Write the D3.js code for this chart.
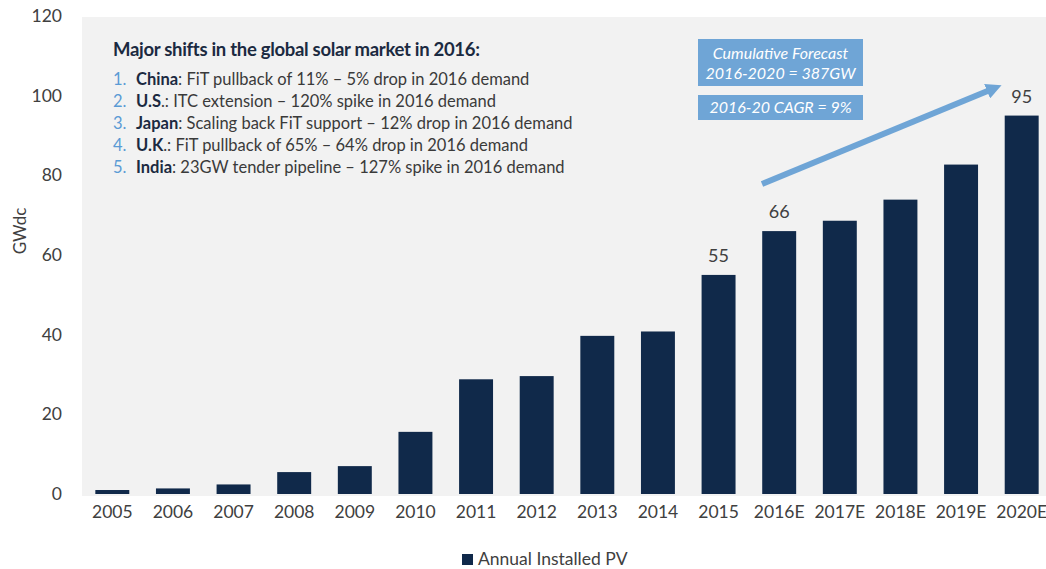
<!DOCTYPE html>
<html>
<head>
<meta charset="utf-8">
<script src="https://cdn.jsdelivr.net/npm/d3@7"></script>
<style>
  html, body { margin: 0; padding: 0; background: #ffffff; }
  svg { display: block; font-family: Lato, "Open Sans", sans-serif; }
</style>
</head>
<body>
<svg id="chart" width="1046" height="569"></svg>
<script>
// Annual installed PV capacity, GWdc
const years = ["2005","2006","2007","2008","2009","2010","2011","2012","2013","2014","2015","2016E","2017E","2018E","2019E","2020E"];
const installed = [1.0, 1.4, 2.4, 5.5, 7.0, 15.6, 28.8, 29.6, 39.7, 40.8, 55, 66, 68.6, 73.9, 82.7, 95];
const labelledYears = ["2015", "2016E", "2020E"];
const yTicks = [0, 20, 40, 60, 80, 100, 120];

const headline = "Major shifts in the global solar market in 2016:";
const shiftNums = ["1.", "2.", "3.", "4.", "5."];
const shiftMarkets = ["China", "U.S", "Japan", "U.K", "India"];
const shiftNotes = [
  ": FiT pullback of 11% \u2013 5% drop in 2016 demand",
  ".: ITC extension \u2013 120% spike in 2016 demand",
  ": Scaling back FiT support \u2013 12% drop in 2016 demand",
  ".: FiT pullback of 65% \u2013 64% drop in 2016 demand",
  ": 23GW tender pipeline \u2013 127% spike in 2016 demand"
];
const forecastBox = ["Cumulative Forecast", "2016-2020 = 387GW"];
const cagrBox = ["2016-20 CAGR = 9%"];
const legendLabel = "Annual Installed PV";
const yTitle = "GWdc";

const svg = d3.select("#chart");
const navy = "#10294a";
const textGray = "#404040";
const accent = "#6fa5d6";

// plot area
const plot = { left: 82, right: 1052, top: 16, bottom: 494 };

const x = d3.scaleBand()
  .domain(years)
  .range([plot.left, plot.right])
  .paddingInner(0.44)
  .paddingOuter(0.22);

const y = d3.scaleLinear()
  .domain([0, 120])
  .range([plot.bottom, plot.top]);

// grey panel behind the bars
svg.append("rect")
  .attr("x", plot.left)
  .attr("y", y(120) + 1)
  .attr("width", 1046 - plot.left)
  .attr("height", y(0) - y(120) + 1)
  .attr("fill", "#f2f2f2");

// y axis (labels only)
const yAxis = svg.append("g")
  .attr("transform", `translate(${plot.left},0)`)
  .call(d3.axisLeft(y).tickValues(yTicks).tickSize(0).tickPadding(20));
yAxis.select(".domain").remove();
yAxis.selectAll("text")
  .attr("fill", textGray)
  .style("font-family", "Lato, 'Open Sans', sans-serif")
  .style("font-size", "17.5px");

// x axis (labels only)
const xAxis = svg.append("g")
  .attr("transform", `translate(0,${plot.bottom})`)
  .call(d3.axisBottom(x).tickSize(0).tickPadding(12));
xAxis.select(".domain").remove();
xAxis.selectAll("text")
  .attr("fill", textGray)
  .style("font-family", "Lato, 'Open Sans', sans-serif")
  .style("font-size", "17.5px");

// bars
svg.append("g").selectAll("rect")
  .data(years.map((yr, i) => ({ yr, v: installed[i] })))
  .join("rect")
  .attr("x", d => x(d.yr))
  .attr("y", d => y(d.v))
  .attr("width", x.bandwidth())
  .attr("height", d => y(0) - y(d.v))
  .attr("fill", navy);

// value labels
svg.append("g").selectAll("text")
  .data(years.map((yr, i) => ({ yr, v: installed[i] })).filter(d => labelledYears.includes(d.yr)))
  .join("text")
  .attr("x", d => x(d.yr) + x.bandwidth() / 2)
  .attr("y", d => y(d.v) - 13)
  .attr("text-anchor", "middle")
  .attr("fill", textGray)
  .style("font-size", "18px")
  .text(d => d3.format("d")(d.v));

// y axis title
svg.append("text")
  .attr("transform", "translate(26,231) rotate(-90)")
  .attr("text-anchor", "middle")
  .attr("fill", textGray)
  .style("font-size", "17px")
  .text(yTitle);

// headline + list of market shifts
svg.append("text")
  .attr("x", 113).attr("y", 56)
  .attr("fill", "#1b2a41")
  .style("font-size", "18.5px")
  .style("font-weight", "bold")
  .style("letter-spacing", "-0.3px")
  .text(headline);

const list = svg.append("g");
shiftNums.forEach((n, i) => {
  const yy = 85 + i * 22;
  list.append("text")
    .attr("x", 113).attr("y", yy)
    .attr("fill", "#5b9bd5")
    .style("font-size", "16.5px")
    .text(n);
  const t = list.append("text")
    .attr("x", 136).attr("y", yy)
    .attr("fill", "#3a3a3a")
    .style("font-size", "16.5px");
  t.append("tspan")
    .attr("fill", "#1b2a41")
    .style("font-weight", "bold")
    .text(shiftMarkets[i]);
  t.append("tspan").text(shiftNotes[i]);
});

// forecast boxes
const boxX = 698, boxW = 165;
svg.append("rect").attr("x", boxX).attr("y", 39).attr("width", boxW).attr("height", 47).attr("fill", accent);
forecastBox.forEach((s, i) => {
  svg.append("text")
    .attr("x", boxX + boxW / 2).attr("y", 59 + i * 20)
    .attr("text-anchor", "middle")
    .attr("fill", "#ffffff")
    .style("font-size", "16px")
    .style("font-style", "italic")
    .text(s);
});
svg.append("rect").attr("x", boxX).attr("y", 95).attr("width", boxW).attr("height", 25).attr("fill", accent);
svg.append("text")
  .attr("x", boxX + boxW / 2).attr("y", 113)
  .attr("text-anchor", "middle")
  .attr("fill", "#ffffff")
  .style("font-size", "16px")
  .style("font-style", "italic")
  .text(cagrBox[0]);

// growth arrow
const defs = svg.append("defs");
defs.append("marker")
  .attr("id", "head")
  .attr("viewBox", "0 0 10 10")
  .attr("refX", 2).attr("refY", 5)
  .attr("markerWidth", 2.6).attr("markerHeight", 2.6)
  .attr("orient", "auto")
  .append("path")
  .attr("d", "M0,0 L10,5 L0,10 Z")
  .attr("fill", accent);
svg.append("line")
  .attr("x1", 762).attr("y1", 184)
  .attr("x2", 990).attr("y2", 90)
  .attr("stroke", accent)
  .attr("stroke-width", 6)
  .attr("marker-end", "url(#head)");

// legend
svg.append("rect")
  .attr("x", 462).attr("y", 554)
  .attr("width", 11).attr("height", 11)
  .attr("fill", navy);
svg.append("text")
  .attr("x", 478).attr("y", 565)
  .attr("fill", textGray)
  .style("font-size", "17.5px")
  .text(legendLabel);
</script>
</body>
</html>
